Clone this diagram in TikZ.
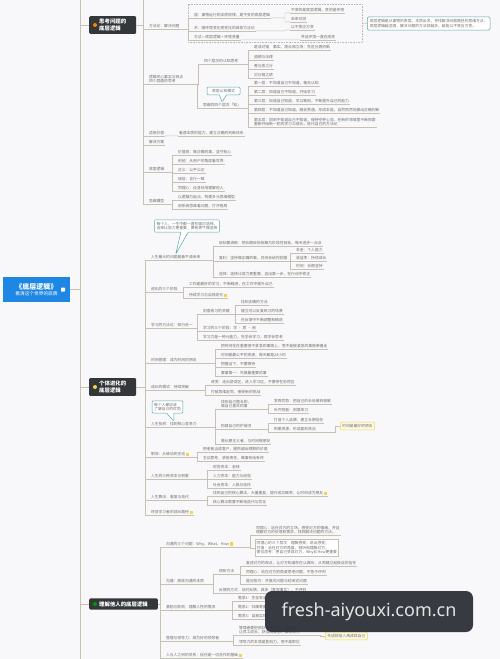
\documentclass[tikz,border=0pt]{standalone}
\usepackage{fontspec}
\usetikzlibrary{shapes.callouts}
\newfontfamily\cjk{Noto Sans CJK SC}
\newfontfamily\wmfont{Noto Sans}
\definecolor{bgc}{HTML}{F8F8FA}
\definecolor{rootblue}{HTML}{1E86E3}
\definecolor{brdark}{HTML}{34373A}
\definecolor{txtc}{HTML}{6E6E6E}
\definecolor{linec}{HTML}{C8C1B3}
\definecolor{tealc}{HTML}{5AA5AA}
\definecolor{iconc}{HTML}{F0D64A}
\definecolor{wmc}{HTML}{2C2F37}
\definecolor{wmtext}{HTML}{E4E4E4}
\newcommand{\leaffont}{\cjk\fontsize{3.8}{4.8}\selectfont}
\newcommand{\ico}{\,{\color{iconc}\rule[-0.4pt]{3.2pt}{3.2pt}}}

\tikzset{
  conn/.style={draw=linec, line width=0.45pt},
  br/.style={to path={(\tikztostart) -| ([xshift=-5pt]\tikztotarget) -- (\tikztotarget)}},
  topic/.style={anchor=west, inner xsep=0.8pt, inner ysep=0.9pt, text=txtc, align=left, font=\leaffont,
    append after command={(\tikzlastnode.south west) edge[conn] (\tikzlastnode.south east)}},
  framed/.style={topic, draw=linec, fill=white, inner sep=1.5pt},
  root/.style={fill=rootblue, text=white, minimum width=67pt, minimum height=25pt, align=center,
    font=\cjk\fontsize{4.7}{6.5}\selectfont},
  branch/.style={anchor=west, fill=brdark, text=white, rounded corners=1.2pt, inner xsep=10pt,
    inner ysep=3pt, align=left, font=\cjk\bfseries\fontsize{5.4}{6.6}\selectfont},
  dot/.style={circle, inner sep=0pt, minimum size=4pt},
  note/.style={rectangle callout, draw=tealc, fill=white, rounded corners=1pt, text=txtc,
    align=left, font=\leaffont, inner sep=2pt, line width=0.5pt},
  summ/.style={draw=tealc, fill=white, rounded corners=1.5pt, text=txtc, align=left,
    font=\leaffont, inner sep=2.5pt, line width=0.5pt},
  hint/.style={anchor=west, draw=iconc, fill=iconc!12, rounded corners=1pt, text=txtc,
    font=\leaffont, inner sep=2pt, line width=0.5pt}
}

\begin{document}
\begin{tikzpicture}[x=1pt, y=-1pt]
  \fill[bgc] (0,0) rectangle (500,659);
  \useasboundingbox (0,0) rectangle (500,659);

  % root and trunk
  \node[root] (root) at (36.5,289.5) {{\fontsize{7}{8.5}\selectfont\bfseries 《底层逻辑》}\\看清这个世界的底牌};
  \node[fill=white, rounded corners=0.5pt, minimum size=4pt, inner sep=0pt] (rico) at (63,289.5) {};
  \coordinate (ttop) at (80,0);
  \coordinate (tbot) at (80,659);
  \draw[conn] (ttop) -- (tbot);
  \draw[conn] (root.east) -- (root.east -| ttop);

  % ---------- branch 1
  \node[branch] (b1) at (89,25) {思考问题的\\底层逻辑};
  \node[dot, fill=orange] (b1d) at (95,25) {};
  \draw[conn] (b1.west -| ttop) -- (b1.west);

  \coordinate (c0) at (148,-4);
  \node[topic] (c1) at (148,26) {方法论：解决问题};
  \node[topic] (g1a) at (193,15) {道：事物运行的本质规律，是不变的底层逻辑};
  \node[topic] (g1b) at (193,28) {术：随环境变化而变化的具体方法论};
  \node[topic] (g1c) at (193,37) {方法 = 底层逻辑 + 环境变量};
  \node[topic] (f1) at (290,10) {不变的是底层逻辑，变的是环境};
  \node[topic] (f2) at (290,19) {未来可测};
  \node[topic] (f3) at (290,27) {以不变应万变};
  \node[topic] (f4) at (300,37) {并且环境一直在改变};
  \node[draw=gray!55, dash pattern=on 0.8pt off 0.8pt, line width=0.4pt, minimum width=174pt,
    minimum height=38pt, inner sep=0pt] (grp1) at (275,23) {};
  \node[summ, anchor=west] (cl1) at (367,23.5) {底层逻辑是从事物的底层、本质出发，寻找解决问题路径的思维方法，\\底层逻辑越坚固，解决问题的方法就越多，越能以不变应万变。};

  \node[topic] (c2) at (148,79) {逻辑关心事实与观点\\四个层面的思考};
  \node[topic] (g2a) at (203,61) {四个层次的认知思考};
  \node[topic] (l1) at (253,47) {是非对错\quad 事实、观点和立场：先区分再判断};
  \node[topic] (l2) at (253,57) {道德与法律};
  \node[topic] (l3) at (253,66) {善与恶之分};
  \node[topic] (l4) at (253,75) {对与错之辨};
  \node[topic] (g2b) at (202,105) {思维的四个层次「知」};
  \node[note, minimum width=33pt, callout absolute pointer={(g2b.north)}] (cn2) at (223.5,91) {底层认知模式};
  \node[topic] (l5) at (253,83) {第一层：不知道自己不知道，毫无认知};
  \node[topic] (l6) at (253,92) {第二层：知道自己不知道，开始学习};
  \node[topic] (l7) at (253,101) {第三层：知道自己知道，学以致用，不断提升自己的能力};
  \node[topic] (l8) at (253,110) {第四层：不知道自己知道，融会贯通，形成本能，自然而然地做出正确判断};
  \node[topic] (l9) at (253,122) {第五层：回到不知道自己不知道，保持空杯心态，在新的领域里不断探索\\重新开始新一轮的学习与成长，迭代自己的方法论};

  \node[topic] (c3) at (148,133) {适用价值};
  \node[topic] (c3x) at (178,133) {看透本质的能力，建立正确的判断体系};
  \node[topic] (c4) at (148,142) {解决方案};
  \node[topic] (c5) at (148,169) {底层逻辑};
  \node[topic] (v1) at (177,152) {价值观：做正确的事，坚守初心};
  \node[topic] (v2) at (177,161) {利他：从用户的角度看世界};
  \node[topic] (v3) at (177,170) {正义：公平公正};
  \node[topic] (v4) at (177,179) {诚信：言行一致};
  \node[topic] (v5) at (177,188) {同理心：设身处地理解他人};
  \node[topic] (c6) at (148,201) {思维模型};
  \node[topic] (w1) at (177,197) {以逻辑为起点，构建多元思维模型};
  \node[topic] (w2) at (177,206) {用系统思维看问题，打开格局};

  \draw[conn] (b1.east) to[br] (c0) (b1.east) to[br] (c1.south west)
    (b1.east) to[br] (c2.south west) (b1.east) to[br] (c3.south west)
    (b1.east) to[br] (c4.south west) (b1.east) to[br] (c5.south west)
    (b1.east) to[br] (c6.south west);
  \draw[conn] (c1.south east) to[br] (g1a.south west) (c1.south east) to[br] (g1b.south west)
    (c1.south east) to[br] (g1c.south west);
  \draw[conn] (g1a.south east) to[br] (f1.south west) (g1a.south east) to[br] (f2.south west)
    (g1b.south east) to[br] (f3.south west) (g1c.south east) -- (f4.south west);
  \draw[conn] (grp1.east) -- (cl1.west);
  \draw[conn] (c2.south east) to[br] (g2a.south west) (c2.south east) to[br] (g2b.south west);
  \draw[conn] (g2a.south east) to[br] (l1.south west) (g2a.south east) to[br] (l2.south west)
    (g2a.south east) to[br] (l3.south west) (g2a.south east) to[br] (l4.south west);
  \draw[conn] (g2b.south east) to[br] (l5.south west) (g2b.south east) to[br] (l6.south west)
    (g2b.south east) to[br] (l7.south west) (g2b.south east) to[br] (l8.south west)
    (g2b.south east) to[br] (l9.south west);
  \draw[conn] (c3.south east) -- (c3x.south west);
  \draw[conn] (c5.south east) to[br] (v1.south west) (c5.south east) to[br] (v2.south west)
    (c5.south east) to[br] (v3.south west) (c5.south east) to[br] (v4.south west)
    (c5.south east) to[br] (v5.south west);
  \draw[conn] (c6.south east) to[br] (w1.south west) (c6.south east) to[br] (w2.south west);

  % ---------- branch 2
  \node[branch] (b2) at (89,387) {个体进化的\\底层逻辑};
  \node[dot, fill=iconc] (b2d) at (95,387) {};
  \draw[conn] (b2.west -| ttop) -- (b2.west);

  \node[topic] (d1) at (150,257) {人生最大的问题是看不清未来};
  \node[note, callout absolute pointer={(d1.north)}] (cn3) at (187,226) {每个人，一生中都一直在面对选择，\\选择比努力更重要，要有勇气做选择};
  \node[topic] (e1) at (218,243) {目标要清晰：把长期目标拆解为阶段性目标，每天进步一点点};
  \node[topic] (e2) at (218,258) {复利：坚持做正确的事，时间会给你回报};
  \node[topic] (e3) at (218,274) {选择：选择比努力更重要，迈出第一步，在行动中修正};
  \node[topic] (e2a) at (295,250) {本金：个人能力};
  \node[topic] (e2b) at (295,258) {收益率：持续成长};
  \node[topic] (e2c) at (295,266) {时间：长期坚持};

  \node[topic] (d2) at (150,289) {进化的三个阶段};
  \node[topic] (p1) at (188,284) {工作是最好的学习，不断精进，在工作中提升自己};
  \node[topic] (p2) at (188,295) {持续学习与自我迭代\ico};

  \node[topic] (d3) at (150,325) {学习的方法论：知行合一};
  \node[topic] (g3a) at (202,311) {刻意练习的关键};
  \node[topic] (q1) at (240,302) {找到正确的方法};
  \node[topic] (q2) at (240,311) {建立可以反复练习的场景};
  \node[topic] (q3) at (240,320) {在反馈中不断调整和精进};
  \node[topic] (g3b) at (202,328) {学习的三个阶段：学 · 思 · 用};
  \node[topic] (g3c) at (202,337) {学习力是一种元能力，先学会学习，再学会思考};

  \node[topic] (d4) at (150,360) {时间管理：成为时间的朋友};
  \node[topic] (r1) at (220,346) {把时间花在重要但不紧急的事情上，而不是被紧急的事情牵着走};
  \node[topic] (r2) at (220,355) {时间是最公平的资源，每天都是24小时};
  \node[topic] (r3) at (220,364) {把握当下，不要等待};
  \node[topic] (r4) at (220,373) {要事第一：先做最重要的事};

  \node[topic] (d5) at (150,387) {成长的模式：持续突破};
  \node[topic] (s1) at (210,382) {改变：走出舒适区，进入学习区，不要停在恐慌区};
  \node[topic] (s2) at (210,392) {打破思维定势，接受新的挑战};

  \node[topic] (d6) at (150,424) {人生投资：找到核心竞争力};
  \node[note, callout absolute pointer={(d6.north)}] (cn4) at (167.5,407) {每个人都应该\\了解自己的优势};
  \node[topic] (g6a) at (220,404) {找到自己擅长的，\\做自己喜欢的事};
  \node[topic] (t1) at (273,401) {发挥优势：把自己的长处做到极致};
  \node[topic] (t2) at (273,410) {补齐短板：刻意练习};
  \node[topic] (g6b) at (220,426) {构建自己的护城河};
  \node[topic] (t3) at (273,420) {打造个人品牌，建立长期信任};
  \node[topic] (t4) at (273,429) {积累资源，形成复利效应};
  \node[hint] (hn1) at (340,426) {时间是最好的朋友};
  \node[topic] (g6c) at (220,441) {做长期主义者，与时间做朋友};

  \node[topic] (d7) at (150,454) {职场：从被动到主动\ico};
  \node[topic] (u1) at (202,449) {把老板当成客户，提供超出预期的价值};
  \node[topic] (u2) at (202,458) {主动思考，承担责任，做事有始有终};

  \node[topic] (d8) at (150,476) {人生的三种资本与积累};
  \node[topic] (x1) at (212,467) {财务资本：金钱};
  \node[topic] (x2) at (212,476) {人力资本：能力与经验};
  \node[topic] (x3) at (212,485) {社会资本：人脉与信任};

  \node[topic] (d9) at (150,497) {人生算法：重复与迭代};
  \node[topic] (y1) at (212,493) {找到自己的核心算法，大量重复，提升成功概率，让时间成为朋友\ico};
  \node[topic] (y2) at (212,502) {核心算法需要不断地迭代与优化};

  \node[topic] (d10) at (150,512) {终身学习者的成长路径\ico};

  \draw[conn] (b2.east) to[br] (d1.south west) (b2.east) to[br] (d2.south west)
    (b2.east) to[br] (d3.south west) (b2.east) to[br] (d4.south west)
    (b2.east) to[br] (d5.south west) (b2.east) to[br] (d6.south west)
    (b2.east) to[br] (d7.south west) (b2.east) to[br] (d8.south west)
    (b2.east) to[br] (d9.south west) (b2.east) to[br] (d10.south west);
  \draw[conn] (d1.south east) to[br] (e1.south west) (d1.south east) to[br] (e2.south west)
    (d1.south east) to[br] (e3.south west);
  \draw[conn] (e2.south east) to[br] (e2a.south west) (e2.south east) to[br] (e2b.south west)
    (e2.south east) to[br] (e2c.south west);
  \draw[conn] (d2.south east) to[br] (p1.south west) (d2.south east) to[br] (p2.south west);
  \draw[conn] (d3.south east) to[br] (g3a.south west) (d3.south east) to[br] (g3b.south west)
    (d3.south east) to[br] (g3c.south west);
  \draw[conn] (g3a.south east) to[br] (q1.south west) (g3a.south east) to[br] (q2.south west)
    (g3a.south east) to[br] (q3.south west);
  \draw[conn] (d4.south east) to[br] (r1.south west) (d4.south east) to[br] (r2.south west)
    (d4.south east) to[br] (r3.south west) (d4.south east) to[br] (r4.south west);
  \draw[conn] (d5.south east) to[br] (s1.south west) (d5.south east) to[br] (s2.south west);
  \draw[conn] (d6.south east) to[br] (g6a.south west) (d6.south east) to[br] (g6b.south west)
    (d6.south east) to[br] (g6c.south west);
  \draw[conn] (g6a.south east) to[br] (t1.south west) (g6a.south east) to[br] (t2.south west);
  \draw[conn] (g6b.south east) to[br] (t3.south west) (g6b.south east) to[br] (t4.south west);
  \draw[conn] (t4.south east) to[br] (hn1.west);
  \draw[conn] (d7.south east) to[br] (u1.south west) (d7.south east) to[br] (u2.south west);
  \draw[conn] (d8.south east) to[br] (x1.south west) (d8.south east) to[br] (x2.south west)
    (d8.south east) to[br] (x3.south west);
  \draw[conn] (d9.south east) to[br] (y1.south west) (d9.south east) to[br] (y2.south west);

  % ---------- branch 3
  \node[branch] (b3) at (89,604) {理解他人的底层逻辑};
  \node[dot, fill=green!60!black] (b3d) at (95,604) {};
  \draw[conn] (b3.west -| ttop) -- (b3.west);

  \node[topic] (h1) at (165,544) {沟通的三个问题：Why、What、How\ico};
  \node[topic] (k1) at (255,530) {同理心：站在对方的立场，感受对方的情绪，并且\\理解对方的处境和需求，找到解决问题的方法。};
  \node[framed] (k2) at (255,548) {同理心的三个层次：理解感受，说出感受；\\共情：站在对方的角度，倾听和理解对方；\\换位思考：把自己变成对方，Why比How更重要};

  \node[topic] (h2) at (165,581) {沟通：高效沟通的本质};
  \node[topic] (m1) at (218,571) {倾听方法};
  \node[topic] (o1) at (245,563) {复述对方的观点，让对方知道你在认真听，从而建立起彼此的信任};
  \node[topic] (o2) at (245,572) {同理心：站在对方的角度思考问题，不急于评判};
  \node[topic] (o3) at (245,581) {提问技巧：开放式问题与封闭式问题};
  \node[topic] (m2) at (218,590) {反馈的方式：及时反馈，具体（客观事实），不评判};

  \node[topic] (h3) at (165,607) {激励与影响：理解人性的需求};
  \node[topic] (z1) at (237,598) {需求1：生存安全};
  \node[topic] (z2) at (237,607) {需求2：归属尊重};
  \node[topic] (z3) at (237,616) {需求3：自我实现};

  \node[topic] (h4) at (165,638) {管理与领导力：成为好的领导者};
  \node[topic] (n1) at (238,630) {管理者要把团队目标与个人目标统一\\让员工成长，获得成就感，激发动力};
  \node[topic] (n2) at (238,642) {领导力的本质是影响力，而不是职位};
  \node[hint] (hn2) at (325,636) {先成就他人再成就自己};

  \node[topic] (h5) at (165,655) {人与人之间的关系：信任是一切合作的基础\ico};

  \draw[conn] (b3.east) to[br] (h1.south west) (b3.east) to[br] (h2.south west)
    (b3.east) to[br] (h3.south west) (b3.east) to[br] (h4.south west)
    (b3.east) to[br] (h5.south west);
  \draw[conn] (h1.south east) to[br] (k1.south west) (h1.south east) to[br] (k2.west);
  \draw[conn] (h2.south east) to[br] (m1.south west) (h2.south east) to[br] (m2.south west);
  \draw[conn] (m1.south east) to[br] (o1.south west) (m1.south east) to[br] (o2.south west)
    (m1.south east) to[br] (o3.south west);
  \draw[conn] (h3.south east) to[br] (z1.south west) (h3.south east) to[br] (z2.south west)
    (h3.south east) to[br] (z3.south west);
  \draw[conn] (h4.south east) to[br] (n1.south west) (h4.south east) to[br] (n2.south west);
  \draw[conn] (n1.south east) to[br] (hn2.west);

  % watermark
  \node[fill=wmc, fill opacity=0.94, text opacity=1, rounded corners=7pt, minimum width=208pt,
    minimum height=41pt, text=wmtext, font=\wmfont\fontsize{18}{20}\selectfont] (wm) at (369,611.5) {fresh-aiyouxi.com.cn};
\end{tikzpicture}
\end{document}
